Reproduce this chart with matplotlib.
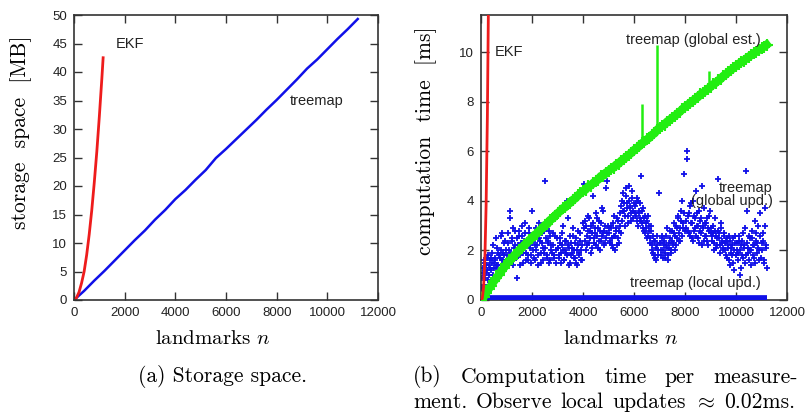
import numpy as np
import matplotlib
matplotlib.use("Agg")
import matplotlib.pyplot as plt

plt.rcParams['font.family'] = 'Liberation Sans'
plt.rcParams['mathtext.fontset'] = 'cm'
plt.rcParams['axes.unicode_minus'] = False

SERIF = 'cmr10'

# -------------------------
# (a) storage space [MB]
# -------------------------
ekf_store_n = [0, 100, 200, 300, 400, 500, 600, 700, 800, 900, 1000, 1100, 1150]
ekf_store_mb = [0, 0.4, 1.4, 3.0, 5.0, 7.9, 11.5, 15.7, 20.6, 26.0, 32.2, 38.9, 42.5]

tree_store_n = list(range(0, 11201, 400))
tree_store_mb = [0, 1.6, 3.4, 5.1, 6.9, 8.7, 10.5, 12.2, 14.1, 15.8, 17.7, 19.3,
                 21.1, 22.8, 24.9, 26.5, 28.2, 29.9, 31.6, 33.4, 35.1, 36.9,
                 38.7, 40.6, 42.2, 44.0, 45.8, 47.5, 49.3]

# -------------------------
# (b) computation time [ms]
# -------------------------
ekf_time_n = [0, 50, 100, 150, 200, 250, 300, 320]
ekf_time_ms = [0, 0.06, 0.5, 1.6, 3.8, 7.4, 12.8, 15.5]

# global estimate, one value every 100 landmarks
glob_est_n = list(range(0, 11201, 100))
glob_est_ms = [
    0.0, 0.12, 0.28, 0.45, 0.58, 0.75, 0.88, 1.02, 1.18, 1.30,
    1.45, 1.58, 1.66, 1.80, 1.88, 2.02, 2.10, 2.22, 2.30, 2.42,
    2.50, 2.63, 2.68, 2.82, 2.88, 3.02, 3.06, 3.22, 3.28, 3.40,
    3.50, 3.58, 3.70, 3.74, 3.86, 3.92, 4.04, 4.10, 4.22, 4.30,
    4.40, 4.45, 4.58, 4.62, 4.72, 4.80, 4.86, 5.00, 5.02, 5.14,
    5.20, 5.30, 5.34, 5.46, 5.50, 5.62, 5.68, 5.78, 5.86, 5.94,
    6.05, 6.12, 6.20, 6.32, 6.38, 6.48, 6.54, 6.66, 6.72, 6.86,
    6.95, 7.02, 7.08, 7.20, 7.26, 7.36, 7.42, 7.52, 7.60, 7.70,
    7.80, 7.86, 7.96, 8.02, 8.12, 8.18, 8.30, 8.36, 8.44, 8.52,
    8.60, 8.70, 8.76, 8.86, 8.92, 9.04, 9.10, 9.20, 9.28, 9.36,
    9.45, 9.52, 9.60, 9.66, 9.74, 9.82, 9.88, 9.96, 10.02, 10.10,
    10.15, 10.22, 10.30]

spike_n = [6330, 6900, 8950]
spike_lo = [6.4, 6.9, 8.6]
spike_hi = [7.9, 10.3, 9.25]

# global updates, two interleaved measurement runs
glob_upd_n_a = np.arange(40, 11201, 40)
glob_upd_ms_a = [
    0.9, 1.3, 0.6, 1.5, 1.1, 1.7, 0.8, 1.4, 1.6, 1.2, 1.9, 1.0, 1.5, 1.7, 1.3, 2.1, 1.4, 1.8, 1.2, 2.6, 1.6, 1.9, 2.3, 1.5, 2.0,
    2.3, 1.6, 3.6, 1.9, 2.5, 1.4, 2.1, 2.8, 1.7, 0.9, 2.2, 2.6, 1.8, 2.0, 3.0, 1.5, 2.4, 2.7, 1.9, 2.2, 1.6, 2.9, 2.1, 1.8, 3.6,
    2.0, 2.6, 1.6, 2.9, 2.2, 1.8, 3.1, 2.4, 1.5, 2.7, 2.1, 1.9, 4.8, 2.5, 1.7, 2.3, 2.8, 1.6, 2.0, 3.2, 2.2, 1.8, 2.6, 1.5, 2.1,
    1.8, 2.3, 1.5, 2.7, 2.0, 1.6, 2.4, 1.9, 4.0, 2.2, 1.4, 2.6, 1.8, 2.1, 2.9, 1.7, 2.3, 1.5, 2.0, 2.8, 1.9, 2.4, 1.6, 2.2, 3.1,
    4.7, 2.4, 3.0, 2.2, 2.8, 3.3, 2.5, 1.9, 2.7, 3.1, 2.3, 2.9, 3.5, 2.6, 2.1, 3.2, 2.8, 2.4, 3.7, 2.7, 2.2, 3.0, 2.5, 4.8, 2.9,
    2.4, 2.9, 2.2, 3.1, 2.6, 2.0, 2.8, 3.3, 2.5, 2.3, 3.0, 2.7, 4.0, 3.6, 3.9, 3.4, 4.2, 3.7, 3.1, 4.6, 3.8, 3.5, 4.1, 3.3, 3.9,
    3.5, 3.9, 3.2, 4.0, 3.6, 3.3, 5.0, 3.1, 3.7, 2.8, 3.4, 2.9, 3.2, 2.6, 3.0, 2.5, 2.8, 2.2, 1.9, 2.4, 1.7, 2.1, 2.6, 1.8, 2.3,
    2.0, 2.5, 1.7, 2.2, 1.9, 2.6, 2.1, 1.6, 2.3, 2.8, 1.9, 2.4, 2.2, 2.7, 2.0, 3.0, 2.5, 3.3, 2.4, 2.9, 3.6, 2.6, 3.1, 5.1, 2.8,
    3.2, 6.0, 2.8, 3.5, 2.6, 3.9, 3.1, 2.4, 3.4, 2.9, 4.4, 3.0, 2.5, 3.6, 2.8, 3.3, 2.2, 3.0, 3.7, 2.6, 3.1, 2.4, 2.9, 3.4, 2.7,
    2.6, 3.0, 2.3, 2.8, 2.1, 2.5, 4.9, 2.7, 2.2, 3.1, 2.4, 2.0, 2.6, 2.3, 1.8, 2.5, 2.1, 1.6, 2.4, 1.9, 2.2, 1.5, 2.0, 2.6, 1.8,
    2.0, 1.6, 2.4, 1.0, 2.2, 1.8, 2.7, 2.1, 1.5, 5.2, 2.3, 1.9, 2.6, 2.0, 1.4, 2.5, 2.2, 1.7, 3.2, 2.4, 1.9, 2.1, 1.6, 3.5, 2.3,
    2.4, 1.5, 3.0, 2.1, 1.3]

glob_upd_n_b = np.arange(20, 11200, 40)
glob_upd_ms_b = [
    0.5, 1.1, 1.6, 0.9, 1.4, 1.2, 1.8, 1.0, 1.3, 1.7, 1.5, 2.2, 1.3, 1.6, 2.5, 1.4, 1.9, 1.1, 1.7, 2.0, 2.7, 1.6, 1.8, 2.4, 1.5,
    1.8, 2.7, 2.0, 3.3, 1.5, 2.4, 2.9, 1.9, 2.2, 1.7, 2.5, 2.0, 2.8, 1.4, 2.3, 2.6, 1.9, 2.1, 3.1, 1.6, 2.4, 1.8, 2.7, 2.2, 1.5,
    2.4, 1.7, 2.2, 2.0, 2.7, 1.4, 2.5, 2.9, 1.9, 2.3, 1.6, 2.8, 2.1, 3.0, 1.8, 2.4, 1.5, 2.6, 2.2, 1.9, 2.7, 1.7, 3.3, 2.0, 2.5,
    2.1, 1.7, 2.5, 1.9, 2.2, 3.0, 1.6, 2.0, 2.4, 1.8, 3.3, 2.1, 1.5, 2.3, 1.9, 2.6, 2.0, 1.7, 2.5, 1.4, 2.2, 1.8, 2.7, 2.0, 1.6,
    2.9, 3.2, 2.0, 2.6, 3.4, 2.3, 2.8, 3.0, 2.1, 4.2, 2.5, 2.7, 2.2, 3.3, 2.9, 2.4, 2.0, 3.1, 2.6, 3.6, 2.8, 2.3, 4.5, 2.7, 3.0,
    2.7, 2.3, 3.0, 2.5, 2.1, 3.4, 2.6, 2.9, 2.2, 3.2, 2.8, 3.5, 3.8, 3.2, 4.3, 3.6, 3.0, 4.5, 3.9, 3.4, 4.0, 3.7, 3.2, 4.4, 3.6,
    3.8, 3.4, 4.1, 3.0, 3.5, 3.9, 3.2, 3.6, 2.9, 3.3, 2.7, 3.1, 2.5, 3.4, 2.8, 2.3, 3.0, 2.0, 2.6, 1.8, 2.4, 1.6, 2.2, 2.0, 4.3,
    2.3, 1.8, 2.6, 2.0, 2.4, 1.7, 2.2, 2.9, 1.8, 2.1, 2.5, 2.0, 2.8, 2.3, 3.1, 2.6, 2.2, 2.9, 3.4, 2.7, 2.4, 3.2, 4.0, 2.9, 3.5,
    2.9, 5.7, 3.4, 2.7, 3.8, 3.1, 2.5, 4.0, 2.8, 3.3, 2.6, 3.5, 3.0, 2.3, 3.2, 2.7, 4.6, 2.9, 2.4, 3.1, 2.6, 3.3, 2.2, 2.8, 3.6,
    2.9, 2.4, 2.7, 2.0, 3.3, 2.6, 2.2, 2.8, 2.5, 1.9, 2.9, 2.3, 2.1, 2.7, 2.0, 2.4, 1.7, 2.2, 2.6, 1.4, 2.1, 1.8, 2.5, 1.2, 2.3,
    2.3, 1.9, 2.6, 2.0, 1.3, 2.4, 1.7, 2.2, 2.9, 1.8, 3.6, 2.1, 1.6, 2.5, 2.0, 2.8, 1.8, 2.2, 1.5, 2.7, 2.3, 3.0, 2.0, 2.6, 1.7,
    2.0, 2.7, 1.6, 3.7, 2.2]

local_upd_n = [0, 11200]
local_upd_ms = [0.02, 0.02]

x_ticks = [0, 2000, 4000, 6000, 8000, 10000, 12000]

RED = '#ee1c1c'
BLUE = '#1010e8'
GREEN = '#22ee11'
DARK = '#333333'

W, H = 807, 413
fig = plt.figure(figsize=(W / 100, H / 100), dpi=100)
axa = fig.add_axes([74 / W, 1 - 300 / H, 304 / W, 285 / H])
axb = fig.add_axes([481 / W, 1 - 300 / H, 306 / W, 285 / H])


def style(ax):
    ax.tick_params(direction='in', top=True, right=True, length=6, width=1,
                   color=DARK, labelsize=9.5, pad=5, labelcolor='#222222')
    for s in ax.spines.values():
        s.set_linewidth(1.2)
        s.set_color(DARK)
    ax.set_xlim(0, 12000)
    ax.set_xticks(x_ticks)
    ax.set_xlabel("landmarks $n$", fontfamily=SERIF, fontsize=15)
    ax.xaxis.set_label_coords(0.457, -0.105)


# -------------------------
# Panel (a)
# -------------------------
axa.plot(tree_store_n, tree_store_mb, color=BLUE, lw=1.8)
axa.plot(ekf_store_n, ekf_store_mb, color=RED, lw=2)
axa.set_ylim(0, 50)
axa.set_yticks(range(0, 51, 5))
style(axa)
axa.set_ylabel("storage  space  [MB]", fontfamily=SERIF, fontsize=15.5)
axa.yaxis.set_label_coords(-0.138, 0.59)
axa.text(1650, 45, "EKF", fontsize=10.5, va='center', color='#222222')
axa.text(8500, 35, "treemap", fontsize=10.5, va='center', color='#222222')

# -------------------------
# Panel (b)
# -------------------------
axb.plot(local_upd_n, local_upd_ms, color=BLUE, lw=7, solid_capstyle='butt',
         zorder=3)
axb.plot(glob_upd_n_a, glob_upd_ms_a, '+', color=BLUE, ms=4, mew=1.3, zorder=2)
axb.plot(glob_upd_n_b, glob_upd_ms_b, '+', color=BLUE, ms=4, mew=1.3, zorder=2)
axb.plot(glob_est_n, glob_est_ms, color=GREEN, lw=6, zorder=4)
axb.plot(glob_est_n, glob_est_ms, '+', color=GREEN, ms=8, mew=1.5, zorder=4)
axb.vlines(spike_n, spike_lo, spike_hi, color=GREEN, lw=1.8, zorder=4)
axb.plot(ekf_time_n, ekf_time_ms, color=RED, lw=2, zorder=5)
axb.set_ylim(0, 11.5)
axb.set_yticks(range(0, 11, 2))
style(axb)
axb.set_ylabel("computation  time  [ms]", fontfamily=SERIF, fontsize=15.5)
axb.yaxis.set_label_coords(-0.144, 0.56)
axb.text(550, 10.0, "EKF", fontsize=10.5, va='center', color='#222222')
axb.text(10980, 10.5, "treemap (global est.)", fontsize=10.5, ha='right',
         va='center', color='#222222', zorder=6)
axb.text(11440, 4.25, "treemap\n(global upd.)", fontsize=10.5, ha='right',
         va='center', multialignment='right', linespacing=0.85,
         color='#222222', zorder=6)
axb.text(10980, 0.67, "treemap (local upd.)", fontsize=10.5, ha='right',
         va='center', color='#222222', zorder=6)

# -------------------------
# Captions
# -------------------------
fig.text(222 / W, 1 - 377 / H, "(a) Storage space.", fontfamily=SERIF,
         fontsize=15.5, ha='center', va='center')

renderer = fig.canvas.get_renderer()


def justify(words, x0, x1, y):
    texts = [fig.text(0, 1 - y / H, w, fontfamily=SERIF, fontsize=15.5,
                      ha='left', va='center') for w in words]
    widths = [t.get_window_extent(renderer).width for t in texts]
    gap = (x1 - x0 - sum(widths)) / (len(words) - 1)
    x = x0
    for t, w in zip(texts, widths):
        t.set_x(x / W)
        x += w + gap


justify(["(b)", "Computation", "time", "per", "measure-"], 413, 798, 377)
justify(["ment.", "Observe", "local", "updates", r"$\approx$", "0.02ms."],
        413, 795, 402)

fig.savefig("out.png", dpi=100)
